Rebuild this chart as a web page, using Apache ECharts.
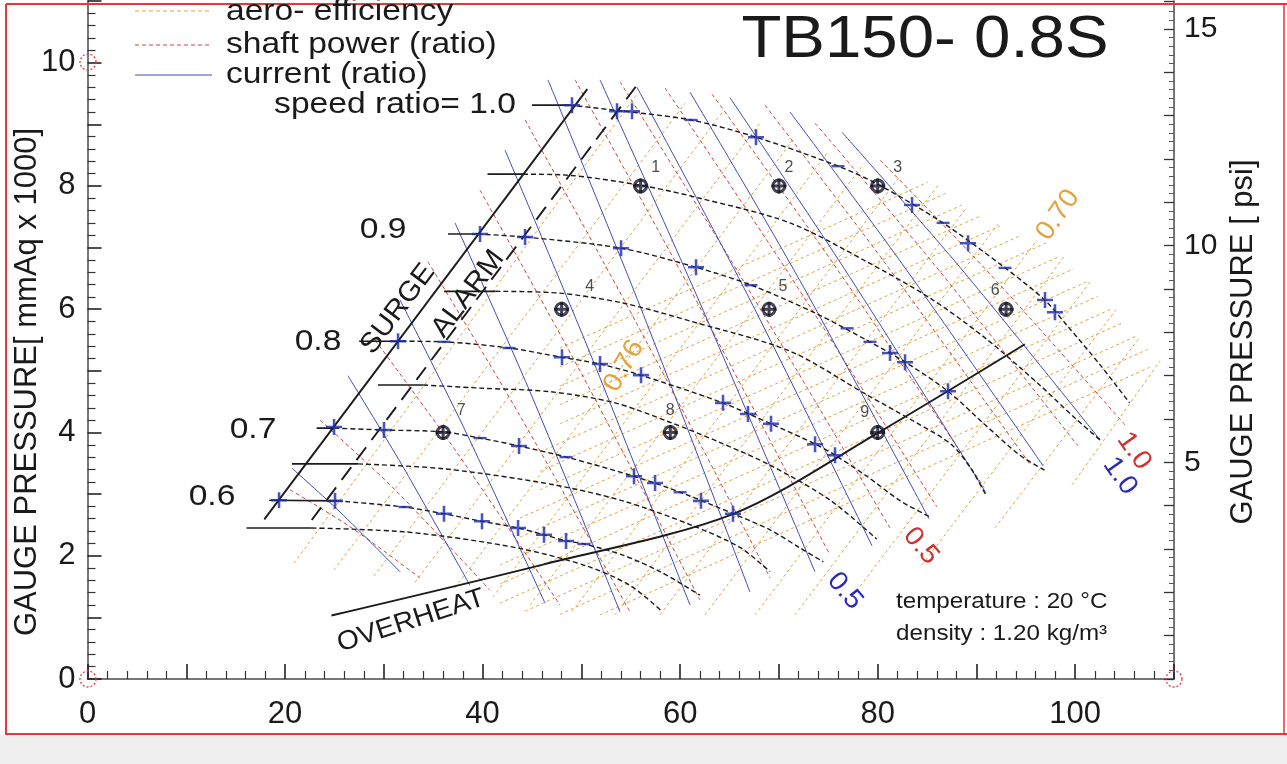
<!DOCTYPE html>
<html>
<head>
<meta charset="utf-8">
<script src="https://cdn.jsdelivr.net/npm/echarts@6/dist/echarts.min.js"></script>
<style>
html, body { margin: 0; padding: 0; background: #fff; }
#chart { width: 1287px; height: 764px; }
</style>
</head>
<body>
<div id="chart"></div>
<script>
// flow [%] vs gauge pressure [mmAq x 1000]; first two points of a speed line are its solid stub
const speed100 = [[45.0,9.31],[48.8,9.31],[54.4,9.21],[61.1,9.07],[67.7,8.79],[76.0,8.32],[80.2,8.01],[86.6,7.40],[92.9,6.67],[96.9,6.15],[99.2,5.73],[102.5,5.10],[105.5,4.48]];
const speed095 = [[40.5,8.19],[44.1,8.19],[48.0,8.18],[56.0,8.01],[62.0,7.80],[71.1,7.40],[78.9,6.77],[85.3,6.18],[90.9,5.53],[96.4,4.77],[100.0,4.23],[102.5,3.88]];
const speed090 = [[36.5,7.22],[39.5,7.22],[44.3,7.17],[54.0,6.99],[61.6,6.68],[67.2,6.39],[73.9,5.92],[79.2,5.47],[82.8,5.14],[87.1,4.67],[90.9,4.12],[94.4,3.63],[96.9,3.39]];
const speed085 = [[36.1,6.29],[41.3,6.29],[47.8,6.26],[54.2,6.10],[61.4,5.79],[71.1,5.32],[78.8,4.62],[84.0,4.15],[87.5,3.80],[89.5,3.40],[90.9,3.00]];
const speed080 = [[27.5,5.48],[31.8,5.48],[36.1,5.47],[42.7,5.37],[48.0,5.22],[51.9,5.11],[56.0,4.93],[64.3,4.48],[69.2,4.14],[73.7,3.81],[75.7,3.63],[78.9,3.29],[82.3,2.89],[85.3,2.63]];
const speed075 = [[29.4,4.77],[34.0,4.77],[39.7,4.72],[46.9,4.66],[53.4,4.48],[58.9,4.17],[64.0,3.84],[69.1,3.47],[75.2,2.90],[79.9,2.27]];
const speed070 = [[23.2,4.07],[25.0,4.07],[30.0,4.04],[36.0,4.01],[39.7,3.91],[43.7,3.78],[48.5,3.60],[55.3,3.29],[60.0,3.03],[65.4,2.68],[69.1,2.42],[72.1,2.13],[74.5,1.90]];
const speed065 = [[20.7,3.49],[27.4,3.49],[36.1,3.41],[46.9,3.16],[54.2,2.89],[61.4,2.48],[66.1,2.13],[69.1,1.74]];
const speed060 = [[18.4,2.90],[25.3,2.89],[32.1,2.79],[36.1,2.68],[39.9,2.56],[43.6,2.45],[46.2,2.34],[48.5,2.24],[50.3,2.19],[54.2,2.01],[58.0,1.74],[62.0,1.36]];
const speed055 = [[16.1,2.45],[22.7,2.45],[32.6,2.38],[43.4,2.13],[50.6,1.83],[54.9,1.52],[58.0,1.12]];
const speedLines = [speed100, speed095, speed090, speed085, speed080, speed075, speed070, speed065, speed060, speed055];

const surgeLine = [[17.9,2.59],[50.6,9.57]];
const alarmLine = [[22.7,2.58],[55.6,9.63]];
const overheatLine = [[24.7,1.03],[46.2,1.86],[65.4,2.68],[80.2,4.01],[94.9,5.43]];

// current (ratio) lines, right to left
const currentLines = [
  [[76.39,8.87],[88.33,6.68],[102.51,3.88]],
  [[71.12,9.20],[82.77,6.67],[96.74,3.46]],
  [[65.05,9.43],[76.69,6.64],[90.97,3.02]],
  [[61.00,9.52],[72.14,6.46],[85.20,2.60]],
  [[55.63,9.60],[66.57,6.31],[79.43,2.16]],
  [[51.89,9.72],[62.01,6.10],[73.65,1.74]],
  [[46.62,9.72],[55.94,6.05],[67.07,1.41]],
  [[42.27,8.58],[50.87,5.29],[61.00,1.20]],
  [[37.21,7.40],[44.80,4.66],[53.91,1.09]],
  [[31.64,6.15],[38.21,4.04],[46.32,1.23]],
  [[26.37,4.92],[31.84,3.47],[38.72,1.52]],
  [[20.70,3.42],[25.56,2.71],[31.64,1.74]]
];

// shaft power (ratio) lines, right to left
const powerLines = [
  [[80.24,8.42],[91.37,6.57],[105.05,4.12]],
  [[73.65,9.02],[85.60,6.75],[100.28,3.78]],
  [[68.59,9.31],[80.74,6.75],[95.53,3.46]],
  [[63.23,9.49],[75.68,6.70],[90.77,3.11]],
  [[58.47,9.59],[70.82,6.62],[86.00,2.79]],
  [[53.91,9.69],[66.06,6.55],[81.25,2.45]],
  [[49.36,9.72],[61.00,6.33],[75.17,2.01]],
  [[44.30,9.07],[55.43,5.82],[69.10,1.64]],
  [[39.74,7.93],[49.86,5.00],[62.01,1.28]],
  [[34.47,6.77],[43.79,4.27],[54.92,1.09]],
  [[29.11,5.50],[37.51,3.65],[47.84,1.20]],
  [[23.54,4.20],[31.13,3.07],[40.75,1.44]],
  [[20.50,3.07],[26.58,2.47],[33.66,1.64]]
];

// aero-efficiency contour segments
const effSteep = [
  [[20.91,1.88],[55.55,9.47]], [[24.96,1.77],[60.50,9.34]], [[29.01,1.67],[64.34,9.21]],
  [[33.16,1.57],[68.09,9.02]], [[37.21,1.48],[71.63,8.79]], [[41.05,1.33],[75.07,8.57]],
  [[44.80,1.20],[78.42,8.32]], [[49.05,1.09],[82.26,8.16]], [[53.40,1.04],[86.11,8.01]],
  [[57.96,1.04],[89.05,7.66]], [[62.52,1.04],[92.18,7.38]], [[67.58,1.04],[96.13,7.12]],
  [[71.63,1.04],[98.87,6.85]], [[77.50,1.35],[101.50,6.44]], [[84.49,1.85],[104.13,5.99]],
  [[91.88,2.45],[106.56,5.55]], [[99.68,3.15],[108.59,5.16]]
];
const effShallow = [
  [[51.89,1.04],[107.57,5.06]], [[47.84,1.05],[107.37,5.35]], [[44.30,1.10],[106.15,5.56]],
  [[41.76,1.23],[104.94,5.79]], [[41.76,1.54],[103.62,6.00]], [[41.76,1.85],[102.30,6.21]],
  [[43.79,2.30],[101.09,6.44]], [[43.79,2.61],[99.78,6.65]], [[45.81,3.07],[98.46,6.86]],
  [[45.81,3.37],[97.24,7.09]], [[45.81,3.68],[94.41,7.19]], [[47.84,4.14],[92.38,7.35]],
  [[47.84,4.45],[90.36,7.51]], [[47.84,4.75],[88.53,7.69]], [[47.84,5.06],[86.91,7.88]],
  [[47.84,5.37],[85.09,8.06]]
];

// blue marks on the speed lines
const plusMarks = [[49.05,9.31],[53.61,9.21],[55.13,9.21],[67.68,8.79],[83.48,7.69],[89.15,7.07],[96.94,6.15],[97.95,5.95],
  [39.74,7.22],[44.30,7.17],[54.02,6.99],[61.61,6.68],[81.25,5.29],[82.77,5.14],[87.12,4.67],
  [31.44,5.48],[48.04,5.22],[51.89,5.11],[56.04,4.93],[64.34,4.48],[66.87,4.30],[69.20,4.14],[73.66,3.81],[75.68,3.63],
  [24.96,4.09],[30.02,4.04],[43.69,3.78],[55.33,3.29],[57.46,3.18],[62.11,2.89],[65.35,2.68],
  [19.39,2.90],[25.06,2.89],[36.09,2.68],[39.94,2.56],[43.59,2.45],[46.22,2.34],[48.45,2.24]];
const dashMarks = [[61.10,9.07],[75.98,8.32],[86.62,7.40],[92.89,6.67],[67.17,6.39],[76.90,5.69],[79.22,5.47],
  [36.09,5.47],[42.67,5.37],[39.74,3.91],[48.45,3.60],[59.99,3.03],[32.14,2.79],[50.27,2.19]];

// numbered operating points
const opPoints = [[56,8],[70,8],[80,8],[48,6],[69,6],[93,6],[36,4],[59,4],[80,4]];
const opNames = ['1','2','3','4','5','6','7','8','9'];

const xTickLabels = [0, 20, 40, 60, 80, 100];
const yTickLabels = [0, 2, 4, 6, 8, 10];
const psiTickLabels = [5, 10, 15];

const FONT = '"Liberation Sans", Arial, Helvetica, sans-serif';
const ORANGE = '#e3a23f';
const RED = '#c8463a';
const BLUE = '#3d4db6';
const BLACK = '#1b1b1b';
const MARK = '#1c2aa8';
const POINT = '#15152a';
const PSI_PER_KMMAQ = 1 / 0.70307;

const chart = echarts.init(document.getElementById('chart'));

const mk = (data, color, width, type, z) => ({
  type: 'line', data, symbol: 'none', smooth: 0.3, silent: true, animation: false, z,
  lineStyle: { color, width, type }
});

const series = [];
effSteep.forEach(l => series.push(mk(l, ORANGE, 1, [3, 3], 1)));
effShallow.forEach(l => series.push(mk(l, ORANGE, 1, [3, 3], 1)));
powerLines.forEach(l => series.push(mk(l, RED, 1, [4, 3], 2)));
currentLines.forEach(l => series.push(mk(l, BLUE, 1, 'solid', 3)));
speedLines.forEach(l => {
  series.push(mk(l.slice(1), BLACK, 1.4, [5, 3], 4));
  series.push(mk(l.slice(0, 2), BLACK, 1.7, 'solid', 4));
});
series.push(mk(surgeLine, BLACK, 1.9, 'solid', 5));
series.push(mk(alarmLine, BLACK, 1.9, [16, 9], 5));
series.push(mk(overheatLine, BLACK, 1.9, 'solid', 5));

const plusPath = 'path://M4.2,0H5.8V4.2H10V5.8H5.8V10H4.2V5.8H0V4.2H4.2Z';
const crossPath = 'path://M4,0H6V4H10V6H6V10H4V6H0V4H4Z';
series.push({
  type: 'scatter', data: plusMarks, symbol: plusPath, symbolSize: 16, silent: true, animation: false, z: 6,
  itemStyle: { color: MARK }
});
series.push({
  type: 'scatter', data: dashMarks, symbol: 'rect', symbolSize: [13, 2.4], silent: true, animation: false, z: 6,
  itemStyle: { color: MARK }
});

const opLabelOffsets = [[15,-18],[10,-18],[20,-18],[28,-23],[14,-23],[-11,-19],[18,-22],[0,-22],[-13,-20]];
series.push({
  type: 'scatter', symbol: 'circle', symbolSize: 12, silent: true, animation: false, z: 7,
  itemStyle: { color: 'rgba(0,0,0,0)', borderColor: POINT, borderWidth: 3 },
  data: opPoints.map((p, i) => ({
    value: p,
    label: { show: true, formatter: opNames[i], position: 'inside', offset: opLabelOffsets[i],
      fontSize: 16, color: '#222', fontFamily: FONT }
  }))
});
series.push({
  type: 'scatter', data: opPoints, symbol: crossPath, symbolSize: 15, silent: true, animation: false, z: 7,
  itemStyle: { color: POINT }
});

const txt = (text, x, y, o = {}) => ({
  type: 'text', x, y, rotation: (o.rot || 0) * Math.PI / 180, scaleX: o.sx || 1.12, silent: true, z: 100,
  style: {
    text, fill: o.color || '#1a1a1a', fontSize: o.size || 30, fontFamily: FONT,
    align: o.align || 'center', verticalAlign: 'middle'
  }
});
const seg = (x1, y1, x2, y2, stroke, dash, w) => ({
  type: 'line', silent: true, z: 100,
  shape: { x1, y1, x2, y2 }, style: { stroke, lineWidth: w || 1.2, lineDash: dash || null }
});
const ring = (cx, cy) => ({
  type: 'circle', silent: true, z: 101, shape: { cx, cy, r: 8 },
  style: { fill: 'none', stroke: '#e23b3b', lineWidth: 1.3, lineDash: [2, 2] }
});

const graphic = [
  { type: 'rect', silent: true, z: 0, shape: { x: 0, y: 735, width: 1287, height: 29 }, style: { fill: '#efefef' } },
  seg(6, 4, 1287, 4, '#e03a3a', null, 2),
  seg(6, 4, 6, 735, '#e03a3a', null, 2),
  seg(6, 734, 1287, 734, '#e03a3a', null, 2),
  seg(1284, 4, 1284, 734, '#e03a3a', null, 1.5),
  ring(88, 62), ring(88, 679), ring(1174, 679),

  seg(135, 11, 212, 11, ORANGE, [4, 3]),
  seg(135, 45, 212, 45, RED, [4, 3]),
  seg(135, 75, 212, 75, BLUE, null),
  txt('aero- efficiency', 226, 12, { align: 'left' }),
  txt('shaft power (ratio)', 226, 45, { align: 'left' }),
  txt('current (ratio)', 226, 75, { align: 'left' }),

  txt('TB150- 0.8S', 925, 40, { size: 60, sx: 1.09 }),

  txt('speed ratio= 1.0', 516, 105, { align: 'right' }),
  txt('0.9', 383, 230),
  txt('0.8', 318, 342),
  txt('0.7', 253, 430),
  txt('0.6', 212, 497),

  txt('SURGE', 398, 309, { rot: 53, size: 28, sx: 1.05 }),
  txt('ALARM', 468, 294, { rot: 53, size: 28, sx: 1.05 }),
  txt('OVERHEAT', 411, 621, { rot: 18, size: 27, sx: 1.05 }),

  txt('0.70', 1058, 215, { rot: 55, size: 27, color: ORANGE, sx: 1.05 }),
  txt('0.76', 624, 366, { rot: 60, size: 27, color: ORANGE, sx: 1.05 }),
  txt('1.0', 1134, 451, { rot: -55, size: 27, color: '#d23030', sx: 1.05 }),
  txt('1.0', 1120, 476, { rot: -55, size: 27, color: '#2a2ab8', sx: 1.05 }),
  txt('0.5', 921, 546, { rot: -50, size: 27, color: '#d23030', sx: 1.05 }),
  txt('0.5', 845, 591, { rot: -50, size: 27, color: '#2a2ab8', sx: 1.05 }),

  txt('temperature : 20 °C', 896, 602, { align: 'left', size: 22, sx: 1.1 }),
  txt('density : 1.20 kg/m³', 896, 634, { align: 'left', size: 22, sx: 1.1 }),

  { type: 'text', x: 27, y: 382, rotation: Math.PI / 2, silent: true, z: 100,
    style: { text: 'GAUGE PRESSURE[ mmAq x 1000]', fill: '#1a1a1a', fontSize: 31, fontFamily: FONT, align: 'center', verticalAlign: 'middle' } },
  { type: 'text', x: 1243, y: 342, rotation: Math.PI / 2, silent: true, z: 100,
    style: { text: 'GAUGE PRESSURE [ psi]', fill: '#1a1a1a', fontSize: 31, fontFamily: FONT, align: 'center', verticalAlign: 'middle' } }
];

const axisLineStyle = { color: '#4a4a4a', width: 1.5 };
chart.setOption({
  animation: false,
  backgroundColor: '#fff',
  grid: { left: 87.5, right: 113, top: 1, bottom: 85, containLabel: false },
  xAxis: {
    type: 'value', min: 0, max: 110, interval: 10,
    axisLine: { show: true, onZero: false, lineStyle: axisLineStyle },
    axisTick: { show: true, inside: true, length: 15, lineStyle: { color: '#222', width: 1.6 } },
    minorTick: { show: true, splitNumber: 5, length: 8, lineStyle: { color: '#333', width: 1.2 } },
    axisLabel: { margin: 20, fontSize: 31, color: '#1a1a1a', fontFamily: FONT,
      formatter: v => (xTickLabels.includes(v) ? String(v) : '') },
    splitLine: { show: false }
  },
  yAxis: [
    {
      type: 'value', position: 'left', min: 0, max: 11, interval: 1,
      axisLine: { show: true, onZero: false, lineStyle: axisLineStyle },
      axisTick: { show: true, inside: true, length: 14, lineStyle: { color: '#222', width: 1.6 } },
      minorTick: { show: true, splitNumber: 5, length: 8, lineStyle: { color: '#333', width: 1.2 } },
      axisLabel: { margin: 12, fontSize: 31, color: '#1a1a1a', fontFamily: FONT,
        formatter: v => (yTickLabels.includes(v) ? String(v) : '') },
      splitLine: { show: false }
    },
    {
      type: 'value', position: 'right', min: 0, max: 11 * PSI_PER_KMMAQ, interval: 1,
      axisLine: { show: true, onZero: false, lineStyle: axisLineStyle },
      axisTick: { show: true, inside: true, length: 10, lineStyle: { color: '#333', width: 1.3 } },
      minorTick: { show: true, splitNumber: 5, length: 5, lineStyle: { color: '#555', width: 1 } },
      axisLabel: { margin: 10, fontSize: 30, color: '#1a1a1a', fontFamily: FONT, showMaxLabel: false,
        formatter: v => (psiTickLabels.includes(v) ? String(v) : '') },
      splitLine: { show: false }
    }
  ],
  series,
  graphic
});
</script>
</body>
</html>
